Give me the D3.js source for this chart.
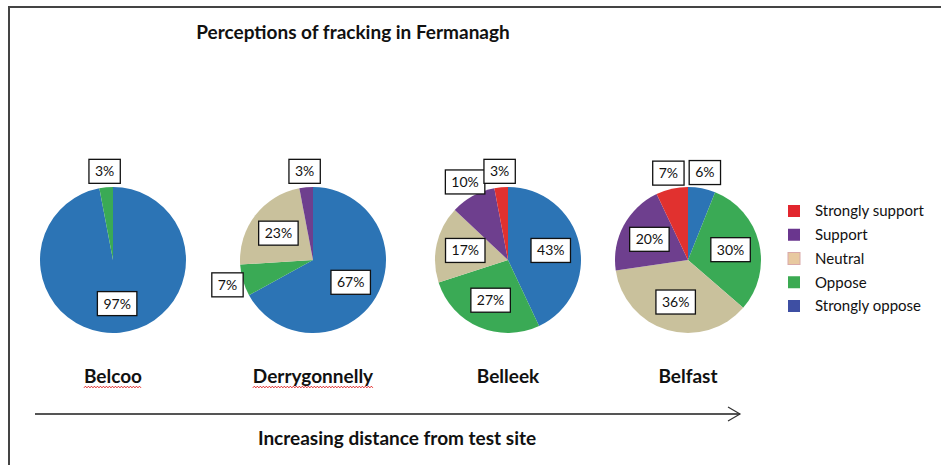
<!DOCTYPE html>
<html>
<head>
<meta charset="utf-8">
<title>Perceptions of fracking in Fermanagh</title>
<script src="https://cdn.jsdelivr.net/npm/d3@7/dist/d3.min.js"></script>
<style>
  body { margin: 0; background: #fff; }
  text { font-family: Lato, "Open Sans", sans-serif; fill: #111; }
  .title { font-size: 19px; font-weight: bold; text-anchor: middle; }
  .site { font-size: 19px; font-weight: bold; text-anchor: middle; }
  .axis-label { font-size: 19px; font-weight: bold; text-anchor: middle; }
  .box rect { fill: #fff; stroke: #111; stroke-width: 1.3; }
  .box text { font-size: 14px; text-anchor: middle; }
  .legend text { font-size: 15px; }
</style>
</head>
<body>
<script>
  var sites = ["Belcoo", "Derrygonnelly", "Belleek", "Belfast"];
  var categories = ["Strongly support", "Support", "Neutral", "Oppose", "Strongly oppose"];

  // percentages per site, same order as sites
  var stronglySupport = [0, 0, 3, 7];
  var support = [0, 3, 10, 20];
  var neutral = [0, 23, 17, 36];
  var oppose = [3, 7, 27, 30];
  var stronglyOppose = [97, 67, 43, 6];

  // names the spell checker flagged in the original figure
  var flagged = ["Belcoo", "Derrygonnelly"];

  var series = [stronglySupport, support, neutral, oppose, stronglyOppose];
  var pieColors = ["#e1312f", "#6e3f8e", "#c9c19c", "#3aaa55", "#2c74b5"];
  var legendColors = ["#e2262e", "#6a368e", "#e8c9a0", "#3baa52", "#3e4fa3"];

  var width = 941, height = 465, r = 73;

  var svg = d3.select("body").append("svg").attr("width", width).attr("height", height);

  // frame
  svg.append("path").attr("d", "M9," + height + "V7H" + width)
    .attr("fill", "none").attr("stroke", "#444").attr("stroke-width", 2);

  svg.append("text").attr("class", "title").attr("x", 353).attr("y", 39)
    .text("Perceptions of fracking in Fermanagh");

  var x = d3.scaleOrdinal().domain(sites).range([113, 313, 508, 688]);
  var color = d3.scaleOrdinal().domain(categories).range(pieColors);
  var pieY = 260;

  var pie = d3.pie().value(d => d.value).sort(null);
  var arc = d3.arc().innerRadius(0).outerRadius(r);
  var inLabel = d3.arc().innerRadius(r * 0.6).outerRadius(r * 0.6);
  var outLabel = d3.arc().innerRadius(r * 1.22).outerRadius(r * 1.22);

  sites.forEach(function (site, i) {
    // clockwise from 12 o'clock: strongly oppose first
    var slices = categories.map((c, k) => ({ cat: c, value: series[k][i] }))
      .reverse().filter(d => d.value > 0);
    var arcs = pie(slices);

    var g = svg.append("g").attr("transform", "translate(" + x(site) + "," + pieY + ")");

    g.selectAll("path.slice").data(arcs).enter().append("path")
      .attr("class", "slice")
      .attr("d", arc)
      .attr("fill", d => color(d.data.cat));

    var boxes = g.selectAll("g.box").data(arcs).enter().append("g")
      .attr("class", "box")
      .attr("transform", function (d) {
        var c = d.data.value > 10 ? inLabel.centroid(d) : outLabel.centroid(d);
        return "translate(" + c[0] + "," + c[1] + ")";
      });

    boxes.each(function (d) {
      var b = d3.select(this);
      var rect = b.append("rect");
      var t = b.append("text").attr("dy", "0.35em").text(d.data.value + "%");
      var bb = t.node().getBBox();
      rect.attr("x", bb.x - 6).attr("y", -12).attr("width", bb.width + 12).attr("height", 24);
    });

    var label = svg.append("text").attr("class", "site")
      .attr("x", x(site)).attr("y", 383).text(site);

    if (flagged.indexOf(site) >= 0) {
      var lb = label.node().getBBox();
      var pts = d3.range(lb.x, lb.x + lb.width, 1.5).map((px, j) => [px, 387 + (j % 2 ? -0.8 : 0.8)]);
      svg.append("path").attr("d", d3.line()(pts))
        .attr("fill", "none").attr("stroke", "#e02020").attr("stroke-width", 1);
    }
  });

  // legend
  var ly = d3.scalePoint().domain(categories).range([211, 306]);
  var legend = svg.append("g").attr("class", "legend");
  var items = legend.selectAll("g").data(categories).enter().append("g")
    .attr("transform", d => "translate(788," + ly(d) + ")");
  items.append("rect").attr("x", 0).attr("y", -6).attr("width", 12).attr("height", 12)
    .attr("fill", (d, i) => legendColors[i])
    .attr("stroke", (d, i) => i === 2 ? "#d9a9a9" : "none");
  items.append("text").attr("x", 27).attr("dy", "0.35em").text(d => d);

  // distance arrow
  svg.append("line").attr("x1", 35).attr("x2", 740).attr("y1", 414).attr("y2", 414)
    .attr("stroke", "#555").attr("stroke-width", 2);
  svg.append("path").attr("d", "M728,407L740,414L728,421")
    .attr("fill", "none").attr("stroke", "#333").attr("stroke-width", 1.2);

  svg.append("text").attr("class", "axis-label").attr("x", 397).attr("y", 445)
    .text("Increasing distance from test site");
</script>
</body>
</html>
